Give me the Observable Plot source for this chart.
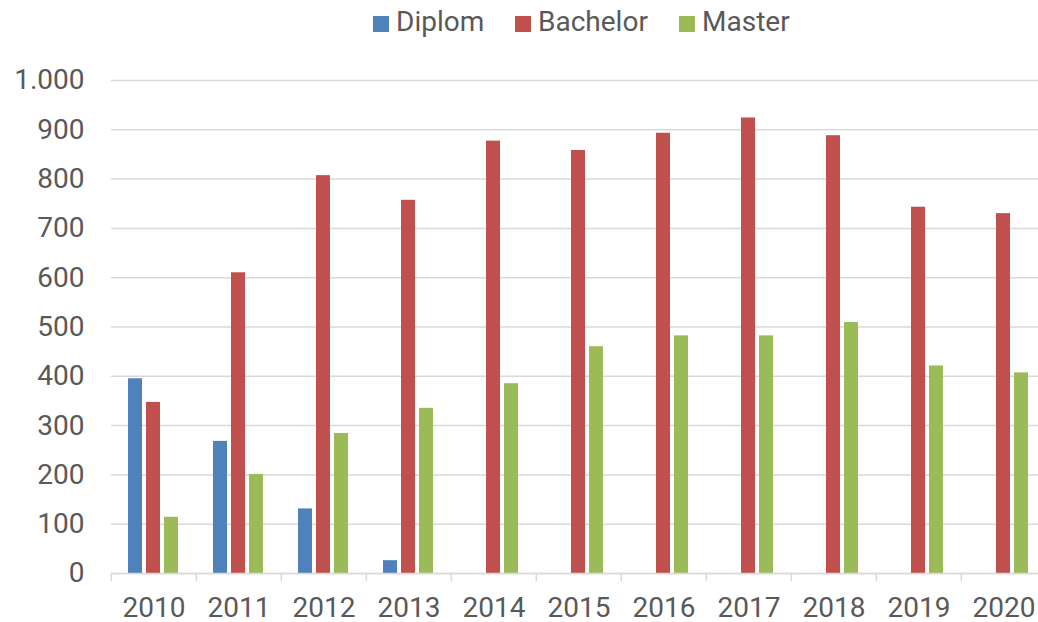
<!DOCTYPE html>
<html>
<head>
<meta charset="utf-8">
<script src="https://cdn.jsdelivr.net/npm/d3@7"></script>
<script src="https://cdn.jsdelivr.net/npm/@observablehq/plot@0.6"></script>
<style>
  html, body { margin: 0; padding: 0; background: #fff; overflow: hidden; }
  body { width: 1038px; height: 622px; font-family: Roboto, "Noto Sans", sans-serif; }
  #legend { position: relative; height: 42px; color: #595959; font-size: 28px; }
  #legend .sw { position: absolute; top: 16px; width: 16px; height: 16px; }
  #legend .lb { position: absolute; top: 1px; line-height: 42px; white-space: nowrap; }
</style>
</head>
<body>
<div id="legend"></div>
<div id="chart"></div>
<script>
const years = ["2010","2011","2012","2013","2014","2015","2016","2017","2018","2019","2020"];
const types = ["Diplom", "Bachelor", "Master"];
const colors = ["#4f81bd", "#c0504d", "#9bbb59"];
const diplom   = [395, 268, 131, 26, null, null, null, null, null, null, null];
const bachelor = [347, 610, 807, 757, 877, 858, 893, 924, 888, 743, 730];
const master   = [114, 201, 284, 335, 385, 460, 482, 482, 509, 421, 407];
const yTicks = [0, 100, 200, 300, 400, 500, 600, 700, 800, 900, 1000];

const series = {Diplom: diplom, Bachelor: bachelor, Master: master};
const data = [];
years.forEach((yr, i) => {
  types.forEach(t => {
    const v = series[t][i];
    if (v != null) data.push({year: yr, type: t, value: v});
  });
});

const de = d3.formatLocale({decimal: ",", thousands: ".", grouping: [3], currency: ["", " €"]});
const fmt = de.format(",d");

// legend (positions are layout only)
const legendLeft = [373, 515, 679];
const legend = document.getElementById("legend");
types.forEach((t, i) => {
  const sw = document.createElement("span");
  sw.className = "sw";
  sw.style.left = legendLeft[i] + "px";
  sw.style.background = colors[i];
  const label = document.createElement("span");
  label.className = "lb";
  label.style.left = (legendLeft[i] + 23) + "px";
  label.textContent = t;
  legend.appendChild(sw);
  legend.appendChild(label);
});

const W = 1038, H = 580, mL = 109, mR = -10;
const band = (W - mL - mR) / years.length;

const chart = Plot.plot({
  width: W,
  height: H,
  marginTop: 38,
  marginBottom: 49,
  marginLeft: mL,
  marginRight: mR,
  style: {fontFamily: "Roboto, 'Noto Sans', sans-serif", fontSize: "28px", color: "#595959", background: "#fff"},
  fx: {domain: years, padding: 0, label: null},
  x: {domain: types, paddingInner: 0.21, paddingOuter: 0.85, axis: null},
  y: {domain: [0, 1000], label: null},
  color: {domain: types, range: colors},
  marks: [
    Plot.gridY(yTicks, {stroke: "#d9d9d9", strokeOpacity: 1, strokeWidth: 1.5}),
    Plot.axisY(yTicks, {tickSize: 0, tickPadding: 27, tickFormat: fmt, fill: "#595959", fontSize: 28, label: null}),
    Plot.barY(data, {fx: "year", x: "type", y: "value", fill: "type"}),
    Plot.ruleY([0], {stroke: "#d9d9d9", strokeWidth: 1.5}),
    Plot.axisFx({anchor: "bottom", tickSize: 8, dx: -band / 2, text: null, stroke: "#d9d9d9", strokeWidth: 1.5, label: null}),
    Plot.axisFx({anchor: "bottom", tickSize: 0, tickPadding: 24, fill: "#595959", fontSize: 28, label: null})
  ]
});
document.getElementById("chart").appendChild(chart);
</script>
</body>
</html>
